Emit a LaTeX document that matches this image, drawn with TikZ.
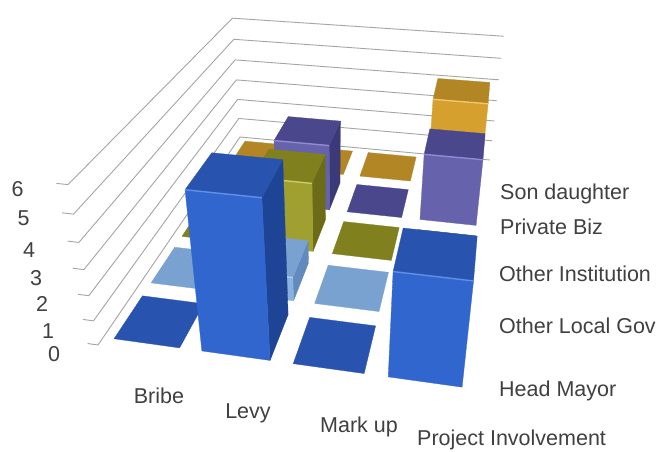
\documentclass[tikz,border=0pt]{standalone}
\usepackage{fontspec}
\setmainfont{Liberation Sans}
\definecolor{txt}{RGB}{64,64,64}
\definecolor{gridc}{RGB}{165,165,165}
\definecolor{hmT}{RGB}{40,84,176}\definecolor{hmF}{RGB}{48,102,206}\definecolor{hmS}{RGB}{30,68,150}\definecolor{hmH}{RGB}{95,145,230}
\definecolor{olgT}{RGB}{122,162,208}\definecolor{olgF}{RGB}{138,178,222}\definecolor{olgS}{RGB}{98,138,188}\definecolor{olgH}{RGB}{175,205,238}
\definecolor{oiT}{RGB}{128,128,30}\definecolor{oiF}{RGB}{160,160,48}\definecolor{oiS}{RGB}{108,108,24}\definecolor{oiH}{RGB}{205,205,95}
\definecolor{pbT}{RGB}{74,71,140}\definecolor{pbF}{RGB}{102,98,172}\definecolor{pbS}{RGB}{60,57,120}\definecolor{pbH}{RGB}{145,140,210}
\definecolor{sdT}{RGB}{178,134,36}\definecolor{sdF}{RGB}{214,160,46}\definecolor{sdS}{RGB}{160,120,30}\definecolor{sdH}{RGB}{240,200,105}
\tikzset{
  declare function={
    wq(\X,\Z,\h)=1-0.07687*\X+0.50892*\Z-0.018939*\h;
    pxx(\X,\Z,\h)=(98+339.56*\X+264.14*\Z-6.2877*\h)/wq(\X,\Z,\h);
    pyy(\X,\Z,\h)=(345+22.41*\X-138.28*\Z-30.227*\h)/wq(\X,\Z,\h);
  },
  gridln/.style={draw=gridc, line width=0.9pt, line join=round},
  lab/.style={font=\fontsize{21.5}{24}\selectfont, text=txt, inner sep=0pt},
  face/.style={fill=#1, draw=#1, line width=0.3pt, line join=round}
}
\newcommand\defpt[4]{\coordinate (#1) at ({pxx(#2,#3,#4)},{pyy(#2,#3,#4)});}
% #1 column, #2 row, #3 height, #4 colour family
\newcommand\cuboid[4]{%
  \pgfmathsetmacro\cbXl{#1*0.25+0.03125}%
  \pgfmathsetmacro\cbXr{#1*0.25+0.21875}%
  \pgfmathsetmacro\cbZf{#2*0.2+0.025}%
  \pgfmathsetmacro\cbZb{#2*0.2+0.175}%
  \defpt{c#1#2a}{\cbXl}{\cbZf}{#3}%
  \defpt{c#1#2b}{\cbXr}{\cbZf}{#3}%
  \defpt{c#1#2c}{\cbXr}{\cbZb}{#3}%
  \defpt{c#1#2d}{\cbXl}{\cbZb}{#3}%
  \ifnum#3>0
    \defpt{c#1#2e}{\cbXl}{\cbZf}{0}%
    \defpt{c#1#2f}{\cbXr}{\cbZf}{0}%
    \defpt{c#1#2g}{\cbXr}{\cbZb}{0}%
    \ifnum#1<3 \path[face=#4S] (c#1#2f) -- (c#1#2g) -- (c#1#2c) -- (c#1#2b) -- cycle;\fi
    \path[face=#4F] (c#1#2e) -- (c#1#2f) -- (c#1#2b) -- (c#1#2a) -- cycle;
    \path[face=#4T] (c#1#2a) -- (c#1#2b) -- (c#1#2c) -- (c#1#2d) -- cycle;
    \draw[#4H, line width=1.4pt] (c#1#2a) -- (c#1#2b);
  \else
    \path[face=#4T] (c#1#2a) -- (c#1#2b) -- (c#1#2c) -- (c#1#2d) -- cycle;
  \fi
}
\begin{document}
\begin{tikzpicture}[x=1pt,y=-1pt]
\fill[white] (0,0) rectangle (664,452);
\path[use as bounding box] (0,0) rectangle (664,452);
% gridlines on side and back walls
\foreach \k in {0,...,6}{
  \defpt{gs\k}{-0.03}{0}{\k}
  \defpt{gf\k}{0}{0}{\k}
  \defpt{gb\k}{0}{1}{\k}
  \defpt{gr\k}{1}{1}{\k}
  \draw[gridln] (gs\k) -- (gf\k) -- (gb\k) -- (gr\k);
}
% bars, back row to front row, left to right
\cuboid{0}{4}{0}{sd}\cuboid{1}{4}{0}{sd}\cuboid{2}{4}{0}{sd}\cuboid{3}{4}{4}{sd}
\cuboid{0}{3}{0}{pb}\cuboid{1}{3}{3}{pb}\cuboid{2}{3}{0}{pb}\cuboid{3}{3}{3}{pb}
\cuboid{0}{2}{0}{oi}\cuboid{1}{2}{3}{oi}\cuboid{2}{2}{0}{oi}\cuboid{3}{2}{0}{oi}
\cuboid{0}{1}{0}{olg}\cuboid{1}{1}{1}{olg}\cuboid{2}{1}{0}{olg}\cuboid{3}{1}{0}{olg}
\cuboid{0}{0}{0}{hm}\cuboid{1}{0}{6}{hm}\cuboid{2}{0}{0}{hm}\cuboid{3}{0}{4}{hm}
% value axis
\node[lab] (y6) at (17.5,189) {6};
\node[lab] (y5) at (23.5,218) {5};
\node[lab] (y4) at (29,250) {4};
\node[lab] (y3) at (36,278) {3};
\node[lab] (y2) at (42,304) {2};
\node[lab] (y1) at (48,331) {1};
\node[lab] (y0) at (54,354) {0};
% series labels
\node[lab,anchor=base west] (lsd) at (500,199) {Son daughter};
\node[lab,anchor=base west] (lpb) at (500,234) {Private Biz};
\node[lab,anchor=base west] (loi) at (499,281) {Other Institution};
\node[lab,anchor=base west] (lolg) at (499,333) {Other Local Gov};
\node[lab,anchor=base west] (lhm) at (499,396) {Head Mayor};
% category labels
\node[lab,anchor=base] (cb) at (159,403) {Bribe};
\node[lab,anchor=base] (cl) at (248,418) {Levy};
\node[lab,anchor=base] (cm) at (359,432) {Mark up};
\node[lab,anchor=base west] (cp) at (417,445) {Project Involvement};
\end{tikzpicture}
\end{document}
